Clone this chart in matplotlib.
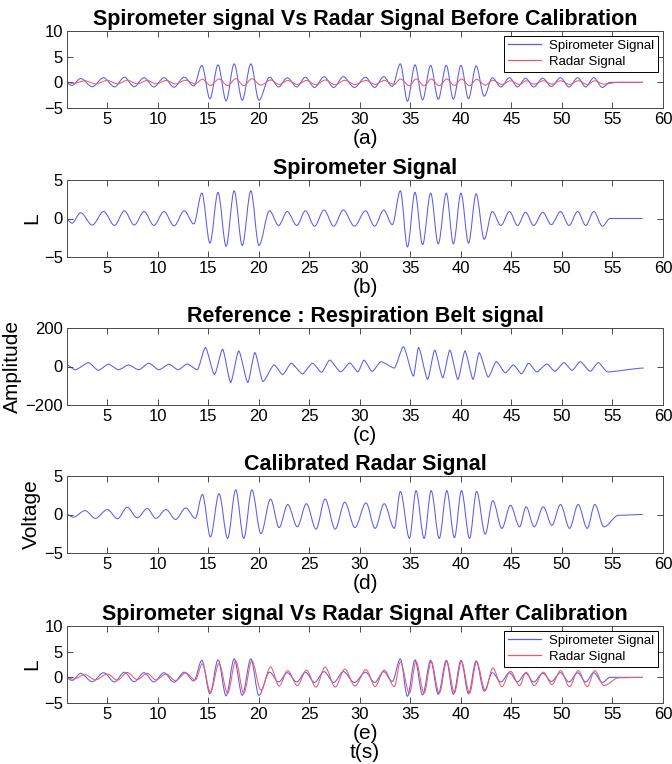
import matplotlib
matplotlib.use("Agg")
import matplotlib.pyplot as plt
from matplotlib.path import Path
from matplotlib.patches import PathPatch
from matplotlib.lines import Line2D

plt.rcParams["font.family"] = ["Liberation Sans", "DejaVu Sans"]

# --------- data: turning points (time s, value) ---------
# spirometer (L) -- panels (a), (b), (e)
spiro_t = [1.0, 1.5, 2.35, 3.5, 4.62, 5.7, 6.68, 7.65, 8.63, 9.6, 10.6, 11.6, 12.6, 13.55,
           14.35, 15.15, 15.95, 16.75, 17.55, 18.35, 19.2, 20.0,
           21.05, 21.95, 22.8, 23.75, 24.6, 25.5, 26.45, 27.4, 28.35, 29.45, 30.55, 31.45, 32.35, 33.2,
           34.0, 34.7, 35.45, 36.2, 37.0, 37.75, 38.55, 39.25, 40.0, 40.75, 41.5, 42.3,
           43.1, 43.95, 44.8, 45.6, 46.4, 47.2, 48.1, 48.95, 49.85, 50.7, 51.55, 52.35, 53.15, 54.0,
           54.75, 58.0]
spiro_v = [-0.2, -0.6, 0.75, -0.85, 0.9, -0.9, 1.0, -0.85, 0.9, -0.9, 0.9, -0.95, 1.0, -0.7,
           3.3, -3.2, 3.4, -3.6, 3.6, -3.5, 3.6, -3.5,
           1.0, -0.9, 0.9, -0.9, 1.0, -1.0, 1.1, -1.0, 1.1, -1.0, 1.0, -1.0, 1.1, -0.8,
           3.6, -3.7, 3.4, -3.4, 3.3, -3.3, 3.3, -3.3, 3.3, -3.2, 3.2, -2.7,
           0.9, -0.9, 0.9, -0.9, 0.8, -0.9, 0.8, -0.8, 0.9, -0.9, 0.9, -0.9, 0.9, -1.0,
           0.0, 0.0]

# radar after calibration (V) -- panels (d), (e)
radar_t = [1.0, 1.6, 2.8, 3.8, 5.0, 6.0, 6.96, 7.95, 8.95, 9.8, 10.8, 11.75, 12.75, 13.7,
           14.4, 15.2, 16.05, 16.9, 17.7, 18.5, 19.3, 20.2,
           21.15, 22.0, 22.85, 23.8, 24.7, 25.65, 26.55, 27.55, 28.5, 29.5, 30.6, 31.5, 32.4, 33.4,
           34.0, 34.9, 35.55, 36.35, 37.05, 37.85, 38.6, 39.35, 40.05, 40.85, 41.55, 42.4,
           43.15, 44.05, 44.9, 45.8, 46.45, 47.25, 48.15, 49.0, 49.85, 50.75, 51.6, 52.5, 53.25, 54.15,
           55.6, 58.0]
radar_v = [0.0, -0.35, 0.5, -0.5, 0.64, -0.55, 0.94, -0.43, 0.77, -0.5, 0.64, -0.64, 0.85, -0.5,
           2.6, -2.9, 2.7, -3.1, 3.2, -3.1, 3.2, -2.5,
           2.0, -1.7, 1.3, -1.6, 1.4, -1.9, 2.0, -1.9, 1.6, -1.7, 1.5, -1.8, 1.4, -1.8,
           3.0, -3.1, 3.1, -3.1, 3.1, -3.1, 3.1, -3.0, 3.1, -3.1, 3.0, -2.55,
           1.8, -1.8, 1.2, -1.6, 1.0, -1.6, 1.0, -1.4, 1.3, -1.8, 1.3, -1.8, 1.3, -1.6,
           -0.1, 0.0]
# radar before calibration, same turning times -- panel (a)
radar_raw_v = [0.0, -0.2, 0.3, -0.3, 0.35, -0.3, 0.4, -0.3, 0.35, -0.3, 0.35, -0.3, 0.4, -0.3,
               0.6, -0.6, 0.65, -0.65, 0.7, -0.65, 0.7, -0.55,
               0.45, -0.4, 0.35, -0.4, 0.35, -0.45, 0.45, -0.45, 0.4, -0.4, 0.35, -0.4, 0.35, -0.4,
               0.65, -0.65, 0.65, -0.65, 0.65, -0.65, 0.65, -0.6, 0.65, -0.65, 0.6, -0.55,
               0.4, -0.4, 0.3, -0.4, 0.3, -0.35, 0.3, -0.35, 0.3, -0.4, 0.3, -0.4, 0.3, -0.35,
               0.0, 0.0]

# respiration belt (amplitude) -- panel (c)
belt_t = [1.0, 1.8, 3.15, 4.1, 5.1, 6.1, 7.1, 8.1, 9.1, 10.1, 11.1, 12.0, 12.9, 13.9,
          14.7, 15.6, 16.4, 17.2, 18.0, 18.9, 19.6, 20.4,
          21.5, 22.35, 23.2, 24.3, 25.3, 26.2, 27.0, 28.1, 29.0, 29.8, 30.4, 31.2, 32.1, 33.4,
          34.3, 35.3, 35.8, 36.7, 37.4, 38.2, 38.9, 39.7, 40.4, 41.2, 41.8, 42.7,
          43.5, 44.4, 45.2, 46.0, 46.7, 47.5, 48.5, 49.3, 50.2, 51.0, 51.8, 52.8, 53.6, 54.5,
          58.1]
belt_v = [8, -17, 20, -20, 12, -17, 8, -17, 17, -17, 12, -17, 13, -17,
          99, -42, 90, -83, 81, -83, 72, -78,
          8, -42, 17, -38, 17, -30, 33, -28, 18, -28, 33, -25, 25, -8,
          103, -50, 99, -67, 85, -58, 85, -67, 81, -67, 72, -55,
          25, -33, 8, -38, 17, -28, 13, -25, 20, -20, 25, -25, 20, -28,
          -8]

XTICKS = list(range(5, 61, 5))
BLUE = "#5b5bf2"
RED = "#f05a64"
AX_COL = "#4a4a4a"


def smooth_path(t, v, k=1/3.):
    # cubic bezier through turning points, flat tangent at each one
    verts = [(t[0], v[0])]
    codes = [Path.MOVETO]
    for i in range(1, len(t)):
        dt = t[i] - t[i-1]
        verts += [(t[i-1] + k*dt, v[i-1]), (t[i] - k*dt, v[i]), (t[i], v[i])]
        codes += [Path.CURVE4] * 3
    return Path(verts, codes)


def add_wave(ax, t, v, color, k=1/3.):
    ax.add_patch(PathPatch(smooth_path(t, v, k), fill=False, edgecolor=color, lw=0.75))


def style(ax, ylim, yticks, title, xlab, ylab=None):
    ax.set_xlim(1, 60)
    ax.set_ylim(*ylim)
    ax.set_xticks(XTICKS)
    ax.set_yticks(yticks)
    ax.set_yticklabels([str(y).replace("-", "\u2212") for y in yticks])
    ax.tick_params(direction="in", top=True, right=True, length=4, width=0.7,
                   colors=AX_COL, labelcolor="black", labelsize=12, pad=3)
    for s in ax.spines.values():
        s.set_color(AX_COL)
        s.set_linewidth(0.7)
    ax.set_title(title, fontsize=15.5, fontweight="bold", pad=4)
    ax.set_xlabel(xlab, fontsize=15, labelpad=1, linespacing=1.05)
    if ylab:
        ax.set_ylabel(ylab, fontsize=15, labelpad=2)


def add_legend(ax):
    h = [Line2D([], [], color=BLUE, lw=0.9), Line2D([], [], color=RED, lw=0.9)]
    leg = ax.legend(h, ["Spirometer Signal", "Radar Signal"], loc="upper right",
                    fontsize=9.5, handlelength=2.5, handletextpad=0.6, labelspacing=0.3,
                    borderpad=0.3, borderaxespad=0.35, fancybox=False, framealpha=1)
    leg.get_frame().set_edgecolor("black")
    leg.get_frame().set_linewidth(0.7)


W, H = 672, 764
fig = plt.figure(figsize=(W/100, H/100), dpi=100)
L, R = 67, 663
bottoms = [108, 257, 405, 553, 703]
hgt = 77
axs = [fig.add_axes([L/W, 1 - b/H, (R-L)/W, hgt/H]) for b in bottoms]

ax = axs[0]
add_wave(ax, spiro_t, spiro_v, BLUE)
add_wave(ax, radar_t, radar_raw_v, RED)
style(ax, (-5, 10), [-5, 0, 5, 10], "Spirometer signal Vs Radar Signal Before Calibration", "(a)")
add_legend(ax)

ax = axs[1]
add_wave(ax, spiro_t, spiro_v, BLUE)
style(ax, (-5, 5), [-5, 0, 5], "Spirometer Signal", "(b)", "L")

ax = axs[2]
add_wave(ax, belt_t, belt_v, BLUE, k=0.22)
style(ax, (-200, 200), [-200, 0, 200], "Reference : Respiration Belt signal", "(c)", "Amplitude")

ax = axs[3]
add_wave(ax, radar_t, radar_v, BLUE)
style(ax, (-5, 5), [-5, 0, 5], "Calibrated Radar Signal", "(d)", "Voltage")

ax = axs[4]
add_wave(ax, spiro_t, spiro_v, BLUE)
add_wave(ax, radar_t, radar_v, RED)
style(ax, (-5, 10), [-5, 0, 5, 10], "Spirometer signal Vs Radar Signal After Calibration", "(e)\nt(s)", "L")
add_legend(ax)

fig.savefig("out.png", dpi=100)
